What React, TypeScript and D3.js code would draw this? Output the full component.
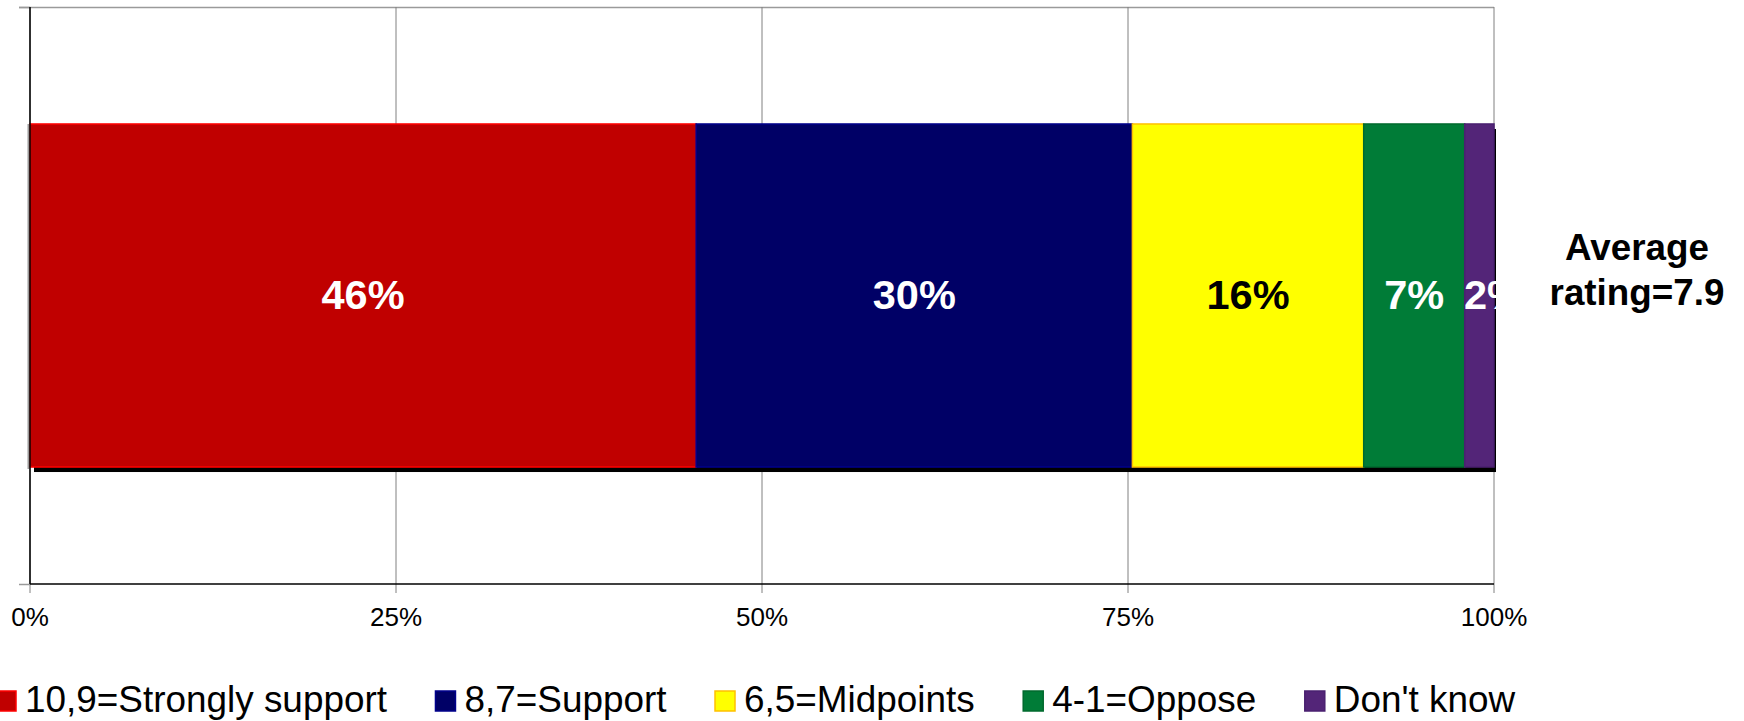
import React from "react";
import * as d3 from "d3";

const categories = ["Overall"];
const seriesNames = ["10,9=Strongly support", "8,7=Support", "6,5=Midpoints", "4-1=Oppose", "Don't know"];
const seriesValues = [45.5, 29.8, 15.8, 6.9, 2.0];
const seriesLabels = ["46%", "30%", "16%", "7%", "2%"];
const seriesFill = ["#C00000", "#000066", "#FFFF00", "#007C37", "#532578"];
const seriesStroke = ["#FF0000", "#00008C", "#FFC000", "#006A2E", "#4A2070"];
const labelColors = ["#FFFFFF", "#FFFFFF", "#000000", "#FFFFFF", "#FFFFFF"];
const xTicks = [0, 25, 50, 75, 100];
const xTickLabels = ["0%", "25%", "50%", "75%", "100%"];
const sideNote = ["Average", "rating=7.9"];

const W = 1744;
const H = 721;
const FONT = "'Liberation Sans', Arial, Helvetica, sans-serif";

function measure(text: string, font: string): number {
  const c = document.createElement("canvas");
  const ctx = c.getContext("2d");
  if (!ctx) return text.length * 18;
  ctx.font = font;
  return ctx.measureText(text).width;
}

export default function App() {
  const left = 30, right = 1494, top = 7, bottom = 584;
  const x = d3.scaleLinear().domain([0, 100]).range([left, right]);
  const y = d3.scaleBand().domain(categories).range([top, bottom]).paddingInner(0).paddingOuter(0.341);

  const stacked = d3.stack<any>().keys(seriesNames)([
    Object.fromEntries(seriesNames.map((n, i) => [n, seriesValues[i]]))
  ]);

  const by = y(categories[0]) as number;
  const bh = y.bandwidth();
  const labelFont = `bold 41.5px ${FONT}`;

  // legend layout
  const legFontSize = 36.9;
  const legFont = `${legFontSize}px ${FONT}`;
  const sq = 20, sqGap = 9, itemGap = 48.5;
  let cursor = -4;
  const legendItems = seriesNames.map((n, i) => {
    const tw = measure(n, legFont);
    const item = { x: cursor, tx: cursor + sq + sqGap, name: n, i };
    cursor += sq + sqGap + tw + itemGap;
    return item;
  });
  const legY = 712;

  return (
    <svg width={W} height={H} style={{ position: "absolute", left: 0, top: 0, background: "#fff" }} fontFamily={FONT}>
      <defs>
        <clipPath id="plotclip">
          <rect x={left - 2} y={top} width={right - left + 4} height={bottom - top} />
        </clipPath>
      </defs>
      {/* top border line */}
      <line x1={19} x2={right} y1={top + 0.5} y2={top + 0.5} stroke="#9a9a9a" strokeWidth={1.5} />
      {/* gridlines */}
      {xTicks.map((t) => (
        <line key={"g" + t} x1={x(t)} x2={x(t)} y1={top} y2={bottom + 9} stroke="#808080" strokeWidth={1} />
      ))}
      {/* left category ticks */}
      {[top, bottom].map((v, i) => (
        <line key={"lt" + i} x1={19} x2={left} y1={v + 0.5} y2={v + 0.5} stroke="#9a9a9a" strokeWidth={1.5} />
      ))}
      {/* shadow */}
      <rect x={x(0) + 4} y={by + 5} width={x(100) - x(0) - 2} height={bh} fill="#000" />
      {/* bars */}
      {stacked.map((s, i) => {
        const d = s[0];
        return (
          <rect key={"b" + i} x={x(d[0])} y={by} width={x(d[1]) - x(d[0])} height={bh}
            fill={seriesFill[i]} stroke={seriesStroke[i]} strokeWidth={1.5} />
        );
      })}
      {/* left edge shadow line */}
      <line x1={left - 1.5} x2={left - 1.5} y1={by} y2={by + bh + 2} stroke="#9a9a9a" strokeWidth={2} />
      {/* axes */}
      <line x1={left} x2={left} y1={top} y2={bottom} stroke="#000" strokeWidth={1.5} />
      <line x1={left} x2={right} y1={bottom} y2={bottom} stroke="#000" strokeWidth={1.5} />
      {/* bar labels */}
      <g clipPath="url(#plotclip)">
        {stacked.map((s, i) => {
          const d = s[0];
          const w = x(d[1]) - x(d[0]);
          const tw = measure(seriesLabels[i], labelFont);
          const cx = w < tw ? x(d[1]) : (x(d[0]) + x(d[1])) / 2;
          return (
            <text key={"l" + i} x={cx} y={by + bh / 2 + 13} textAnchor="middle" fontWeight="bold"
              fontSize={41.5} fill={labelColors[i]}>
              {seriesLabels[i]}
            </text>
          );
        })}
      </g>
      {/* tick labels */}
      {xTicks.map((t, i) => (
        <text key={"t" + t} x={x(t)} y={626} textAnchor="middle" fontSize={26} fill="#000">
          {xTickLabels[i]}
        </text>
      ))}
      {/* side note */}
      <text x={1637} y={260} textAnchor="middle" fontWeight="bold" fontSize={36.8} fill="#000">{sideNote[0]}</text>
      <text x={1637} y={305} textAnchor="middle" fontWeight="bold" fontSize={36.8} fill="#000">{sideNote[1]}</text>
      {/* legend */}
      {legendItems.map((it) => (
        <g key={"lg" + it.i}>
          <rect x={it.x} y={legY - 21} width={sq} height={sq} fill={seriesFill[it.i]} stroke={seriesStroke[it.i]} strokeWidth={1.5} />
          <text x={it.tx} y={legY} fontSize={legFontSize} fill="#000">{it.name}</text>
        </g>
      ))}
    </svg>
  );
}
